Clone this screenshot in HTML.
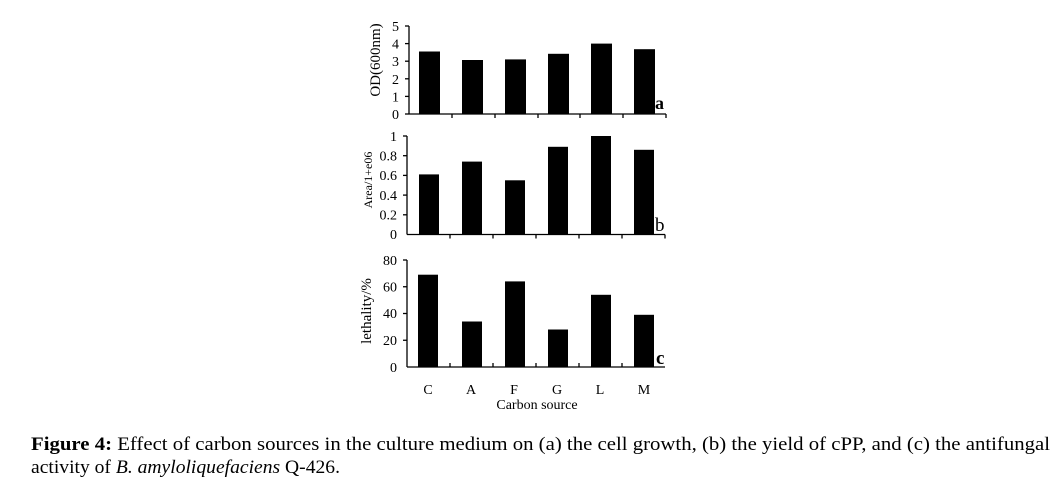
<!DOCTYPE html>
<html><head><meta charset="utf-8"><style>
html,body{margin:0;padding:0;background:#fff;}
svg{display:block;}
text{font-family:"Liberation Serif",serif;fill:#000;}
</style></head><body>
<svg width="1056" height="486" viewBox="0 0 1056 486" xmlns="http://www.w3.org/2000/svg">
<g stroke="#000" stroke-width="1.3" fill="none">
<line x1="409" y1="26" x2="409" y2="114"/><line x1="409" y1="114" x2="666" y2="114"/>
<line x1="405" y1="26" x2="409" y2="26"/><line x1="405" y1="43.6" x2="409" y2="43.6"/><line x1="405" y1="61.2" x2="409" y2="61.2"/><line x1="405" y1="78.8" x2="409" y2="78.8"/><line x1="405" y1="96.4" x2="409" y2="96.4"/><line x1="405" y1="114" x2="409" y2="114"/>
<line x1="452" y1="114" x2="452" y2="118"/><line x1="495" y1="114" x2="495" y2="118"/><line x1="538" y1="114" x2="538" y2="118"/><line x1="580" y1="114" x2="580" y2="118"/><line x1="623" y1="114" x2="623" y2="118"/><line x1="666" y1="114" x2="666" y2="118"/>
<line x1="407" y1="136" x2="407" y2="234.5"/><line x1="407" y1="234.5" x2="665" y2="234.5"/>
<line x1="403" y1="136" x2="407" y2="136"/><line x1="403" y1="155.7" x2="407" y2="155.7"/><line x1="403" y1="175.4" x2="407" y2="175.4"/><line x1="403" y1="195.1" x2="407" y2="195.1"/><line x1="403" y1="214.8" x2="407" y2="214.8"/>
<line x1="450" y1="234.5" x2="450" y2="238.5"/><line x1="493" y1="234.5" x2="493" y2="238.5"/><line x1="536" y1="234.5" x2="536" y2="238.5"/><line x1="579" y1="234.5" x2="579" y2="238.5"/><line x1="622" y1="234.5" x2="622" y2="238.5"/><line x1="665" y1="234.5" x2="665" y2="238.5"/>
<line x1="407" y1="260" x2="407" y2="367"/><line x1="407" y1="367" x2="665" y2="367"/>
<line x1="403" y1="260" x2="407" y2="260"/><line x1="403" y1="286.75" x2="407" y2="286.75"/><line x1="403" y1="313.5" x2="407" y2="313.5"/><line x1="403" y1="340.25" x2="407" y2="340.25"/>
<line x1="450" y1="367" x2="450" y2="363"/><line x1="493" y1="367" x2="493" y2="363"/><line x1="536" y1="367" x2="536" y2="363"/><line x1="579" y1="367" x2="579" y2="363"/><line x1="622" y1="367" x2="622" y2="363"/>
</g>
<g fill="#000">
<rect x="419" y="51.5" width="21" height="62.5"/>
<rect x="462" y="60" width="21" height="54"/>
<rect x="505" y="59.4" width="21" height="54.6"/>
<rect x="548" y="53.8" width="21" height="60.2"/>
<rect x="591" y="43.6" width="21" height="70.4"/>
<rect x="634" y="49.2" width="21" height="64.8"/>
<rect x="419" y="174.4" width="20" height="60.1"/>
<rect x="462" y="161.6" width="20" height="72.9"/>
<rect x="505" y="180.3" width="20" height="54.2"/>
<rect x="548" y="146.8" width="20" height="87.7"/>
<rect x="591" y="136" width="20" height="98.5"/>
<rect x="634" y="149.8" width="20" height="84.7"/>
<rect x="418" y="274.7" width="20" height="92.3"/>
<rect x="462" y="321.5" width="20" height="45.5"/>
<rect x="505" y="281.4" width="20" height="85.6"/>
<rect x="548" y="329.5" width="20" height="37.5"/>
<rect x="591" y="294.8" width="20" height="72.2"/>
<rect x="634" y="314.8" width="20" height="52.2"/>
</g>
<g font-size="14" text-anchor="end">
<text x="399" y="31">5</text><text x="399" y="48.6">4</text><text x="399" y="66.2">3</text><text x="399" y="83.8">2</text><text x="399" y="101.4">1</text><text x="399" y="119">0</text>
<text x="397" y="141">1</text><text x="397" y="160.5">0.8</text><text x="397" y="180">0.6</text><text x="397" y="200">0.4</text><text x="397" y="219.5">0.2</text><text x="397" y="239">0</text>
<text x="397" y="265">80</text><text x="397" y="291.5">60</text><text x="397" y="318">40</text><text x="397" y="345">20</text><text x="397" y="372">0</text>
</g>
<text x="0" y="0" font-size="15" text-anchor="middle" transform="translate(380,60) rotate(-90)">OD(600nm)</text>
<text x="0" y="0" font-size="12" text-anchor="middle" transform="translate(372,180) rotate(-90)">Area/1+e06</text>
<text x="0" y="0" font-size="15" text-anchor="middle" transform="translate(371,311) rotate(-90)">lethality/%</text>
<text x="655" y="109" font-size="18" font-weight="bold">a</text>
<text x="655" y="231" font-size="19">b</text>
<text x="656" y="364" font-size="19" font-weight="bold">c</text>
<g font-size="14" text-anchor="middle">
<text x="428" y="394">C</text><text x="471" y="394">A</text><text x="514" y="394">F</text><text x="557" y="394">G</text><text x="600" y="394">L</text><text x="644" y="394">M</text>
<text x="537" y="409">Carbon source</text>
</g>
<text x="31" y="450" font-size="18.5" textLength="1019" lengthAdjust="spacingAndGlyphs"><tspan font-weight="bold">Figure 4:</tspan> Effect of carbon sources in the culture medium on (a) the cell growth, (b) the yield of cPP, and (c) the antifungal</text>
<text x="31" y="473" font-size="18.5" textLength="309" lengthAdjust="spacingAndGlyphs">activity of <tspan font-style="italic">B. amyloliquefaciens</tspan> Q-426.</text>
</svg>
</body></html>
